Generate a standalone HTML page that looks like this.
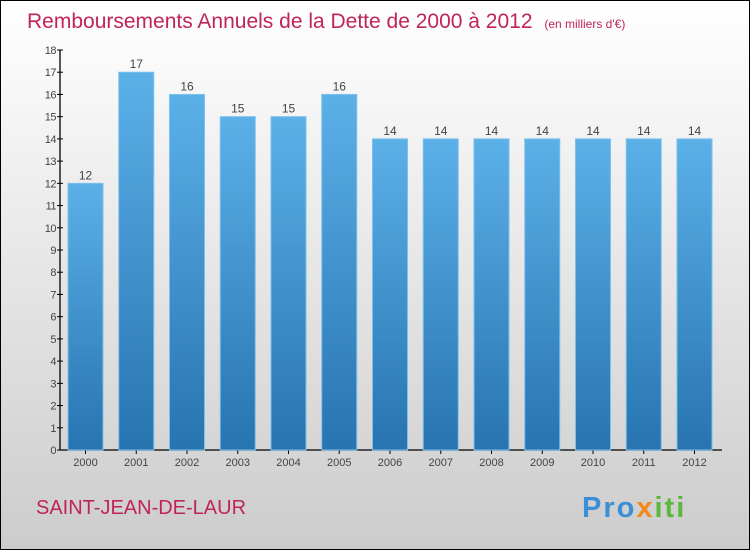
<!DOCTYPE html>
<html><head><meta charset="utf-8"><style>
body{margin:0;width:750px;height:550px;overflow:hidden}
svg{display:block;font-family:"Liberation Sans",sans-serif}
</style></head><body>
<svg id="chart" width="750" height="550">
<defs>
<linearGradient id="bg" x1="0" y1="0" x2="0" y2="1"><stop offset="0" stop-color="#ffffff"/><stop offset="1" stop-color="#cccccc"/></linearGradient>
<linearGradient id="bar" x1="0" y1="0" x2="0" y2="1"><stop offset="0" stop-color="#5cb0e8"/><stop offset="1" stop-color="#2774b0"/></linearGradient>
</defs>
<rect x="0.5" y="0.5" width="749" height="549" fill="url(#bg)" stroke="#000"/>
<text x="27" y="28" font-size="21" fill="#c0245a">Remboursements Annuels de la Dette de 2000 à 2012 <tspan font-size="12" dx="6">(en milliers d'€)</tspan></text>
<g id="axes"></g>
<g id="bars"></g>
<text x="36" y="514" font-size="20" fill="#c0245a">SAINT-JEAN-DE-LAUR</text>
<text x="582" y="517" font-size="29" font-weight="bold" letter-spacing="2"><tspan fill="#3a8fd8">Pro</tspan><tspan fill="#f08a1c">x</tspan><tspan fill="#5cb83a">iti</tspan></text>
</svg>
<script>
const categories=["2000","2001","2002","2003","2004","2005","2006","2007","2008","2009","2010","2011","2012"];
const values=[12,17,16,15,15,16,14,14,14,14,14,14,14];
const yTicks=[0,1,2,3,4,5,6,7,8,9,10,11,12,13,14,15,16,17,18];
const NS="http://www.w3.org/2000/svg";
const y0=450,yTop=50,yMax=18,x0=68,pitch=50.75,bw=35;
const y=v=>y0-(v/yMax)*(y0-yTop);
const x=i=>x0+i*pitch;
function mk(t,a,p){const e=document.createElementNS(NS,t);for(const k in a)e.setAttribute(k,a[k]);p.appendChild(e);return e;}
const ax=document.getElementById('axes'),bg=document.getElementById('bars');
let l=mk('line',{x1:60,y1:y0,x2:722,y2:y0,stroke:'#000','stroke-width':1.3},ax);


l=mk('line',{x1:60,y1:yTop,x2:60,y2:y0,stroke:'#000','stroke-width':1.3},ax);


yTicks.forEach(v=>{
 const t=mk('line',{x1:57,y1:y(v),x2:63,y2:y(v),stroke:'#000'},ax);
 
 
 const tx=mk('text',{x:56,y:y(v)+4,'font-size':11,'text-anchor':'end',fill:'#444','letter-spacing':'-0.5'},ax);
 tx.textContent=v;
 
 
});
categories.forEach((c,i)=>{
 const r=mk('rect',{x:x(i),y:y(values[i]),width:bw,height:y0-y(values[i]),fill:'url(#bar)',stroke:'#7cc0ee','stroke-width':1},bg);
 
 
 const v=mk('text',{x:x(i)+bw/2,y:y(values[i])-4,'font-size':12,'text-anchor':'middle',fill:'#444'},bg);
 v.textContent=values[i];
 
 
 const t=mk('line',{x1:x(i)+bw/2,y1:y0,x2:x(i)+bw/2,y2:y0+4,stroke:'#000'},ax);
 
 
 const cl=mk('text',{x:x(i)+bw/2,y:466,'font-size':11,'text-anchor':'middle',fill:'#444'},ax);
 cl.textContent=c;
 
 
});
</script>
</body></html>
